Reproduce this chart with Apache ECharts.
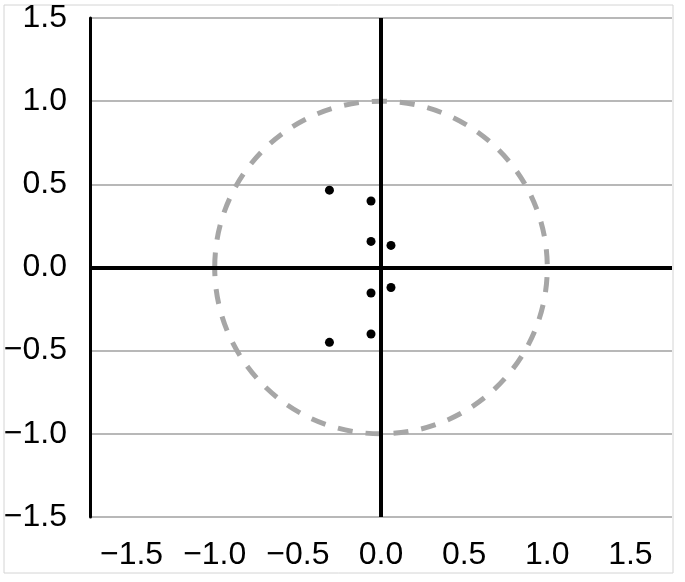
<!DOCTYPE html>
<html>
<head>
<meta charset="utf-8">
<script src="https://cdn.jsdelivr.net/npm/echarts@6/dist/echarts.min.js"></script>
<style>
  html, body { margin: 0; padding: 0; background: #fff; }
  #main { width: 685px; height: 582px; }
</style>
</head>
<body>
<div id="main"></div>
<script>
const rootRe = [-0.31, -0.06, -0.06, 0.06, 0.06, -0.06, -0.06, -0.31];
const rootIm = [0.465, 0.40, 0.157, 0.133, -0.12, -0.153, -0.40, -0.45];
// unit circle: centre x, centre y, radius
const unitCircle = [[0, 0, 1]];
const xMin = -1.75, xMax = 1.75;
const yMin = -1.5, yMax = 1.5;
const xTicks = [-1.5, -1.0, -0.5, 0.0, 0.5, 1.0, 1.5];

const points = rootRe.map((x, i) => [x, rootIm[i]]);
const font = "'Liberation Sans Narrow', 'Liberation Sans', sans-serif";

function fmt(v) {
  return v.toFixed(1).replace('-', '\u2212');
}

const myChart = echarts.init(document.getElementById('main'));

let option = {
  animation: false,
  graphic: [{
    type: 'rect',
    shape: {x: 4, y: 5, width: 669, height: 568},
    style: {fill: 'none', stroke: '#d4d4d4', lineWidth: 1},
    z: -10
  }],
  grid: {
    left: 90,
    right: 13,
    top: 18,
    bottom: 65
  },
  xAxis: {
    type: 'value',
    min: xMin,
    max: xMax,
    interval: 0.25,
    axisLine: {show: false},
    axisTick: {show: false},
    splitLine: {show: false},
    axisLabel: {
      margin: 22,
      fontSize: 32,
      fontFamily: font,
      color: '#000',
      formatter: function (v) {
        let hit = xTicks.find(t => Math.abs(t - v) < 1e-6);
        return hit === undefined ? '' : fmt(hit);
      }
    }
  },
  yAxis: {
    type: 'value',
    min: yMin,
    max: yMax,
    interval: 0.5,
    axisLine: {show: true, onZero: false, lineStyle: {color: '#000', width: 3}},
    axisTick: {show: false},
    splitLine: {show: true, lineStyle: {color: '#a0a0a0', width: 1.5}},
    axisLabel: {
      margin: 23,
      fontSize: 32,
      fontFamily: font,
      color: '#000',
      formatter: fmt
    }
  },
  series: [
    {
      // zero lines
      type: 'line',
      data: [],
      z: 1,
      markLine: {
        silent: true,
        symbol: ['none', 'none'],
        label: {show: false},
        lineStyle: {color: '#000', width: 4, type: 'solid'},
        data: [{xAxis: 0}, {yAxis: 0}]
      }
    },
    {
      // dashed unit circle
      type: 'custom',
      z: 2,
      data: unitCircle,
      renderItem: function (params, api) {
        let c = api.coord([api.value(0), api.value(1)]);
        let s = api.size([api.value(2), api.value(2)]);
        return {
          type: 'ellipse',
          shape: {cx: c[0], cy: c[1], rx: s[0], ry: s[1]},
          style: {fill: 'none', stroke: '#a6a6a6', lineWidth: 5, lineDash: [15, 13]}
        };
      }
    },
    {
      type: 'scatter',
      z: 3,
      symbolSize: 9,
      itemStyle: {color: '#000', opacity: 1},
      data: points
    }
  ]
};

myChart.setOption(option);
</script>
</body>
</html>
